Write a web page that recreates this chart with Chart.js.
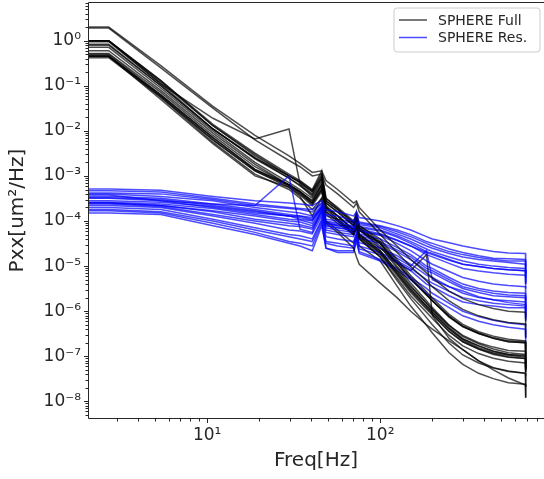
<!DOCTYPE html>
<html>
<head>
<meta charset="utf-8">
<script src="https://cdn.jsdelivr.net/npm/chart.js"></script>
<style>
  body { margin: 0; background: #fff; overflow: hidden; }
  canvas { display: block; }
</style>
</head>
<body>
<canvas id="psd" width="544" height="479"></canvas>
<script>
// frequency bins [Hz] shared by all spectra
const freq = [2.05, 2.7, 5.4, 10.8, 18.9, 29.7, 34.4, 40.5, 45.9, 48.6, 56.7, 70.2, 72.9, 75.6,
              100, 125, 150, 185, 200, 250, 300, 370, 450, 550, 690, 692];

// SPHERE Full spectra, Pxx [um^2/Hz], one row per run
const fullPsd = [
  [2.0, 2.0, 0.28, 3.5e-2, 7.9e-3, 2.8e-3, 1.9e-3, 1.2e-3, 1.3e-3, 7.9e-4, 5.0e-4, 2.5e-4, 2.8e-4, 2.0e-4, 6.3e-5, 2.8e-5, 1.4e-5, 7.1e-6, 5.5e-6, 2.8e-6, 1.9e-6, 1.4e-6, 1.15e-6, 1.0e-6, 9.5e-7, 4.8e-7],
  [1.9, 1.9, 0.25, 3.2e-2, 6.3e-3, 2.2e-3, 1.6e-3, 1.0e-3, 1.1e-3, 6.3e-4, 4.0e-4, 2.0e-4, 2.5e-4, 1.6e-4, 5.0e-5, 2.0e-5, 9.8e-6, 4.7e-6, 3.5e-6, 1.7e-6, 1.1e-6, 7.9e-7, 6.5e-7, 5.6e-7, 5.2e-7, 2.6e-7],
  [1.0, 1.0, 0.11, 1.9e-2, 6.6e-3, 1.1e-2, 6.6e-4, 4.0e-4, 8.9e-4, 2.5e-4, 1.6e-4, 7.9e-5, 1.1e-4, 6.3e-5, 3.2e-5, 1.15e-5, 5.1e-6, 2.3e-6, 1.7e-6, 7.4e-7, 4.5e-7, 3.2e-7, 2.5e-7, 2.1e-7, 2.0e-7, 1.0e-7],
  [1.0, 1.0, 0.13, 1.4e-2, 3.2e-3, 1.1e-3, 7.9e-4, 5.0e-4, 1.3e-3, 3.2e-4, 2.0e-4, 1.0e-4, 1.6e-4, 7.9e-5, 4.0e-5, 1.4e-5, 6.2e-6, 2.7e-6, 1.95e-6, 8.5e-7, 5.1e-7, 3.5e-7, 2.8e-7, 2.4e-7, 2.2e-7, 1.1e-7],
  [1.0, 1.0, 0.12, 1.3e-2, 2.8e-3, 1.0e-3, 7.1e-4, 4.5e-4, 1.0e-3, 2.8e-4, 1.8e-4, 8.9e-5, 1.3e-4, 7.1e-5, 3.2e-5, 1.0e-5, 4.2e-6, 1.7e-6, 1.2e-6, 4.9e-7, 2.75e-7, 1.9e-7, 1.45e-7, 1.2e-7, 1.1e-7, 5.5e-8],
  [0.95, 0.95, 0.11, 1.1e-2, 2.5e-3, 8.9e-4, 6.0e-4, 3.8e-4, 7.9e-4, 2.5e-4, 1.6e-4, 7.9e-5, 1.1e-4, 6.3e-5, 2.8e-5, 9.1e-6, 3.7e-6, 1.5e-6, 1.07e-6, 4.4e-7, 2.45e-7, 1.7e-7, 1.3e-7, 1.1e-7, 1.0e-7, 5.0e-8],
  [0.83, 0.83, 0.10, 1.1e-2, 2.4e-3, 8.9e-4, 6.3e-4, 3.5e-4, 7.1e-4, 2.2e-4, 1.3e-4, 6.3e-5, 8.9e-5, 5.0e-5, 2.2e-5, 7.6e-6, 3.2e-6, 1.3e-6, 9.5e-7, 4.0e-7, 2.3e-7, 1.55e-7, 1.2e-7, 1.05e-7, 9.5e-8, 4.8e-8],
  [0.71, 0.71, 8.9e-2, 1.0e-2, 2.0e-3, 7.1e-4, 5.0e-4, 3.2e-4, 6.3e-4, 2.0e-4, 1.1e-4, 5.6e-5, 7.9e-5, 4.5e-5, 2.0e-5, 6.8e-6, 2.8e-6, 1.2e-6, 8.7e-7, 3.6e-7, 2.1e-7, 1.45e-7, 1.15e-7, 9.8e-8, 8.9e-8, 4.5e-8],
  [0.60, 0.60, 7.9e-2, 8.9e-3, 1.8e-3, 6.3e-4, 4.5e-4, 2.5e-4, 5.0e-4, 1.6e-4, 1.0e-4, 5.0e-5, 7.1e-5, 4.0e-5, 1.6e-5, 4.8e-6, 1.9e-6, 7.2e-7, 5.0e-7, 1.95e-7, 1.07e-7, 7.1e-8, 5.5e-8, 4.6e-8, 4.2e-8, 2.1e-8],
  [0.45, 0.45, 6.3e-2, 7.1e-3, 1.4e-3, 6.3e-4, 4.2e-4, 2.5e-4, 5.6e-4, 1.8e-4, 1.1e-4, 5.6e-5, 8.9e-5, 4.5e-5, 2.0e-5, 6.9e-6, 3.0e-6, 1.3e-6, 9.5e-7, 4.1e-7, 2.4e-7, 1.7e-7, 1.3e-7, 1.1e-7, 1.05e-7, 5.3e-8],
  [0.45, 0.45, 6.0e-2, 6.3e-3, 1.3e-3, 5.6e-4, 3.8e-4, 2.2e-4, 4.5e-4, 1.4e-4, 8.9e-5, 5.0e-5, 7.1e-5, 4.0e-5, 1.6e-5, 5.4e-6, 2.2e-6, 9.5e-7, 6.9e-7, 2.9e-7, 1.7e-7, 1.15e-7, 9.1e-8, 7.8e-8, 7.1e-8, 3.6e-8],
  [0.47, 0.47, 5.6e-2, 5.6e-3, 1.1e-3, 5.0e-4, 3.2e-4, 1.8e-4, 3.2e-4, 8.9e-5, 5.6e-5, 2.5e-5, 1.6e-5, 1.1e-5, 4.2e-6, 2.0e-6, 1.0e-6, 5.0e-7, 4.0e-7, 2.2e-7, 1.4e-7, 7.9e-8, 5.0e-8, 3.3e-8, 2.3e-8, 1.2e-8],
  [0.50, 0.50, 6.3e-2, 7.1e-3, 1.4e-3, 6.3e-4, 4.5e-4, 2.8e-4, 6.3e-4, 2.0e-4, 1.3e-4, 6.3e-5, 8.9e-5, 5.0e-5, 2.5e-5, 1.2e-5, 8.0e-6, 1.8e-5, 7.9e-7, 2.5e-7, 1.4e-7, 7.9e-8, 5.6e-8, 4.7e-8, 4.2e-8, 2.1e-8],
  [0.52, 0.52, 7.1e-2, 7.9e-3, 1.6e-3, 6.3e-4, 4.5e-4, 2.8e-4, 6.3e-4, 2.0e-4, 1.3e-4, 6.3e-5, 1.0e-4, 5.0e-5, 2.2e-5, 7.9e-6, 3.5e-6, 1.5e-6, 1.1e-6, 4.8e-7, 2.9e-7, 2.0e-7, 1.6e-7, 1.35e-7, 1.3e-7, 6.5e-8],
  [0.79, 0.79, 0.10, 1.1e-2, 2.5e-3, 1.0e-3, 7.1e-4, 4.5e-4, 8.9e-4, 2.8e-4, 1.8e-4, 8.9e-5, 1.3e-4, 7.1e-5, 3.2e-5, 1.15e-5, 5.2e-6, 2.3e-6, 1.7e-6, 7.8e-7, 4.7e-7, 3.3e-7, 2.6e-7, 2.2e-7, 2.1e-7, 1.05e-7],
  [0.45, 0.45, 5.0e-2, 5.2e-3, 1.0e-3, 5.6e-4, 3.5e-4, 1.3e-4, 3.2e-4, 1.0e-4, 6.3e-5, 3.2e-5, 5.0e-5, 2.8e-5, 1.3e-5, 3.6e-6, 1.3e-6, 4.9e-7, 3.3e-7, 1.2e-7, 6.6e-8, 4.2e-8, 3.2e-8, 2.6e-8, 2.4e-8, 1.2e-8],
  [1.0, 1.0, 0.13, 1.3e-2, 3.0e-3, 1.0e-3, 7.6e-4, 4.8e-4, 1.1e-3, 3.2e-4, 1.9e-4, 9.5e-5, 1.4e-4, 7.9e-5, 3.5e-5, 1.26e-5, 5.5e-6, 2.4e-6, 1.7e-6, 7.6e-7, 4.6e-7, 3.2e-7, 2.5e-7, 2.1e-7, 2.0e-7, 1.0e-7],
  [0.42, 0.42, 5.6e-2, 6.3e-3, 1.3e-3, 6.0e-4, 4.0e-4, 2.4e-4, 5.0e-4, 1.6e-4, 1.0e-4, 5.2e-5, 7.9e-5, 4.2e-5, 1.8e-5, 6.2e-6, 2.6e-6, 1.1e-6, 8.3e-7, 3.5e-7, 2.1e-7, 1.45e-7, 1.1e-7, 9.5e-8, 8.9e-8, 4.5e-8]
];

// SPHERE Res. spectra, Pxx [um^2/Hz]
const resPsd = [
  [5.1e-4, 5.1e-4, 4.8e-4, 3.5e-4, 2.8e-4, 2.5e-4, 2.4e-4, 2.2e-4, 2.8e-4, 1.8e-4, 1.6e-4, 1.3e-4, 1.6e-4, 1.2e-4, 1.0e-4, 7.9e-5, 6.3e-5, 4.5e-5, 4.0e-5, 3.3e-5, 2.8e-5, 2.4e-5, 2.1e-5, 1.95e-5, 1.9e-5, 9.5e-6],
  [4.7e-4, 4.7e-4, 4.4e-4, 3.2e-4, 2.4e-4, 2.0e-4, 1.9e-4, 1.8e-4, 2.5e-4, 1.4e-4, 1.3e-4, 1.0e-4, 1.3e-4, 9.5e-5, 7.9e-5, 6.3e-5, 5.0e-5, 3.5e-5, 3.2e-5, 2.4e-5, 2.0e-5, 1.7e-5, 1.5e-5, 1.45e-5, 1.4e-5, 7.0e-6],
  [4.0e-4, 4.0e-4, 3.5e-4, 2.8e-4, 2.0e-4, 1.6e-4, 1.5e-4, 1.3e-4, 2.2e-4, 1.1e-4, 1.0e-4, 8.9e-5, 1.1e-4, 8.3e-5, 7.1e-5, 5.2e-5, 4.0e-5, 2.8e-5, 2.5e-5, 1.9e-5, 1.6e-5, 1.4e-5, 1.3e-5, 1.2e-5, 1.1e-5, 5.5e-6],
  [3.8e-4, 3.8e-4, 2.8e-4, 2.4e-4, 2.2e-4, 1.0e-3, 6.6e-5, 5.6e-5, 1.8e-4, 7.9e-5, 7.1e-5, 6.3e-5, 1.0e-4, 6.0e-5, 5.0e-5, 3.7e-5, 2.8e-5, 2.0e-5, 1.8e-5, 1.35e-5, 1.1e-5, 9.8e-6, 8.9e-6, 8.3e-6, 7.9e-6, 4.0e-6],
  [3.5e-4, 3.5e-4, 3.2e-4, 2.4e-4, 1.8e-4, 1.4e-4, 1.3e-4, 1.2e-4, 2.0e-4, 1.0e-4, 8.9e-5, 7.9e-5, 1.05e-4, 7.6e-5, 6.3e-5, 4.7e-5, 3.5e-5, 2.4e-5, 2.1e-5, 1.6e-5, 1.3e-5, 1.1e-5, 1.0e-5, 9.3e-6, 8.9e-6, 4.5e-6],
  [2.8e-4, 2.8e-4, 2.6e-4, 2.1e-4, 1.6e-4, 1.3e-4, 1.2e-4, 1.05e-4, 1.9e-4, 8.9e-5, 7.9e-5, 7.1e-5, 1.0e-4, 6.6e-5, 5.2e-5, 3.8e-5, 2.8e-5, 1.8e-5, 1.6e-5, 1.15e-5, 8.9e-6, 7.8e-6, 7.1e-6, 6.6e-6, 6.3e-6, 3.2e-6],
  [2.6e-4, 2.6e-4, 2.4e-4, 1.9e-4, 1.4e-4, 1.1e-4, 1.05e-4, 8.9e-5, 1.8e-4, 7.9e-5, 7.1e-5, 6.3e-5, 8.9e-5, 6.0e-5, 4.8e-5, 3.2e-5, 2.2e-5, 1.3e-5, 1.1e-5, 7.6e-6, 5.6e-6, 4.6e-6, 4.0e-6, 3.7e-6, 3.5e-6, 1.8e-6],
  [2.5e-4, 2.5e-4, 2.2e-4, 1.7e-4, 1.3e-4, 1.0e-4, 9.5e-5, 7.9e-5, 1.6e-4, 7.1e-5, 6.3e-5, 5.6e-5, 7.9e-5, 5.2e-5, 4.0e-5, 2.6e-5, 1.8e-5, 1.0e-5, 8.9e-6, 5.6e-6, 4.0e-6, 3.2e-6, 2.8e-6, 2.6e-6, 2.5e-6, 1.25e-6],
  [2.4e-4, 2.4e-4, 2.1e-4, 1.4e-4, 1.0e-4, 7.9e-5, 7.6e-5, 6.6e-5, 1.4e-4, 5.6e-5, 5.0e-5, 4.5e-5, 7.1e-5, 4.2e-5, 3.2e-5, 2.1e-5, 1.4e-5, 7.9e-6, 7.1e-6, 4.5e-6, 3.2e-6, 2.6e-6, 2.2e-6, 2.1e-6, 2.0e-6, 1.0e-6],
  [2.2e-4, 2.2e-4, 2.0e-4, 1.3e-4, 8.9e-5, 6.3e-5, 6.0e-5, 5.2e-5, 1.3e-4, 4.5e-5, 4.0e-5, 3.5e-5, 5.6e-5, 3.3e-5, 2.5e-5, 1.7e-5, 1.1e-5, 6.3e-6, 5.6e-6, 3.5e-6, 2.5e-6, 2.0e-6, 1.8e-6, 1.7e-6, 1.6e-6, 8.0e-7],
  [2.0e-4, 2.0e-4, 1.8e-4, 1.1e-4, 7.1e-5, 5.0e-5, 4.7e-5, 4.0e-5, 1.1e-4, 3.5e-5, 3.2e-5, 2.8e-5, 5.0e-5, 2.8e-5, 2.0e-5, 1.3e-5, 8.9e-6, 5.0e-6, 4.2e-6, 2.75e-6, 2.0e-6, 1.7e-6, 1.5e-6, 1.4e-6, 1.3e-6, 6.5e-7],
  [1.8e-4, 1.8e-4, 1.6e-4, 1.0e-4, 6.3e-5, 4.5e-5, 4.0e-5, 3.5e-5, 1.0e-4, 3.2e-5, 2.8e-5, 2.5e-5, 4.5e-5, 2.4e-5, 1.8e-5, 1.2e-5, 7.9e-6, 4.0e-6, 3.5e-6, 2.2e-6, 1.6e-6, 1.4e-6, 1.3e-6, 1.2e-6, 1.2e-6, 6.0e-7],
  [1.7e-4, 1.7e-4, 1.5e-4, 8.9e-5, 5.6e-5, 3.5e-5, 3.2e-5, 2.8e-5, 8.9e-5, 2.5e-5, 2.2e-5, 2.2e-5, 4.0e-5, 2.1e-5, 1.4e-5, 8.9e-6, 5.6e-6, 3.2e-6, 2.5e-6, 1.5e-6, 1.0e-6, 7.6e-7, 6.3e-7, 5.5e-7, 5.0e-7, 2.5e-7],
  [1.5e-4, 1.5e-4, 1.4e-4, 7.9e-5, 5.0e-5, 3.2e-5, 2.8e-5, 2.2e-5, 7.9e-5, 2.5e-5, 2.0e-5, 2.0e-5, 3.5e-5, 1.9e-5, 1.3e-5, 7.9e-6, 5.0e-6, 2.5e-6, 2.0e-6, 1.2e-6, 7.9e-7, 6.0e-7, 5.0e-7, 4.4e-7, 4.0e-7, 2.0e-7],
  [3.2e-4, 3.2e-4, 2.8e-4, 2.0e-4, 1.5e-4, 1.3e-4, 1.1e-4, 1.0e-4, 2.0e-4, 8.9e-5, 7.9e-5, 7.1e-5, 1.0e-4, 6.6e-5, 2.5e-5, 1.5e-5, 1.0e-5, 2.2e-5, 5.0e-6, 3.5e-6, 2.8e-6, 2.1e-6, 1.8e-6, 1.55e-6, 1.4e-6, 7.0e-7],
  [4.2e-4, 4.2e-4, 4.0e-4, 3.0e-4, 2.2e-4, 1.9e-4, 1.8e-4, 1.6e-4, 2.4e-4, 1.3e-4, 1.1e-4, 9.5e-5, 1.3e-4, 8.9e-5, 7.6e-5, 5.8e-5, 4.5e-5, 3.2e-5, 2.8e-5, 2.1e-5, 1.8e-5, 1.55e-5, 1.4e-5, 1.3e-5, 1.3e-5, 6.5e-6],
  [2.5e-4, 2.5e-4, 2.2e-4, 1.6e-4, 1.1e-4, 8.9e-5, 8.3e-5, 7.1e-5, 1.6e-4, 6.3e-5, 5.6e-5, 5.0e-5, 7.9e-5, 4.8e-5, 3.5e-5, 2.3e-5, 1.6e-5, 8.9e-6, 7.9e-6, 5.0e-6, 3.5e-6, 2.9e-6, 2.5e-6, 2.3e-6, 2.2e-6, 1.1e-6],
  [3.3e-4, 3.3e-4, 3.0e-4, 2.2e-4, 1.7e-4, 1.3e-4, 1.3e-4, 1.1e-4, 2.1e-4, 9.5e-5, 8.3e-5, 7.6e-5, 1.05e-4, 7.1e-5, 6.0e-5, 4.4e-5, 3.2e-5, 2.1e-5, 1.9e-5, 1.4e-5, 1.1e-5, 9.8e-6, 8.9e-6, 8.3e-6, 7.9e-6, 4.0e-6]
];

const seriesNames = ['SPHERE Full', 'SPHERE Res.'];
const seriesColors = ['rgba(0,0,0,0.7)', 'rgba(0,0,255,0.7)'];

// decade ticks and their labels
const xMajor = [10, 100];
const xLabels = ['10\u00b9', '10\u00b2'];
const yMajor = [1, 1e-1, 1e-2, 1e-3, 1e-4, 1e-5, 1e-6, 1e-7, 1e-8];
const yLabels = ['10\u2070', '10\u207b\u00b9', '10\u207b\u00b2', '10\u207b\u00b3', '10\u207b\u2074',
                 '10\u207b\u2075', '10\u207b\u2076', '10\u207b\u2077', '10\u207b\u2078'];

const xMin = 2.05, xMax = 883;
const yMin = 4.07e-9, yMax = 7.2;

function logTicks(lo, hi) {
  var out = [];
  for (var e = Math.floor(Math.log10(lo)); e <= Math.ceil(Math.log10(hi)); e++) {
    for (var k = 1; k <= 9; k++) {
      var v = k * Math.pow(10, e);
      if (v >= lo && v <= hi) out.push(v);
    }
  }
  return out;
}

function isDecade(v) {
  var l = Math.log10(v);
  return Math.abs(l - Math.round(l)) < 1e-6;
}

function labelFor(v, majors, labels) {
  for (var i = 0; i < majors.length; i++) {
    if (Math.abs(Math.log10(v) - Math.log10(majors[i])) < 1e-6) return labels[i];
  }
  return '';
}

var datasets = [];
for (var i = 0; i < Math.max(fullPsd.length, resPsd.length); i++) {
  [fullPsd, resPsd].forEach(function (group, g) {
    if (!group[i]) return;
    datasets.push({
      label: seriesNames[g],
      data: freq.map(function (f, j) { return { x: f, y: group[i][j] }; }),
      borderColor: seriesColors[g],
      borderWidth: 1.5,
      pointRadius: 0,
      tension: 0,
      fill: false
    });
  });
}

const FONT = 'DejaVu Sans';

// spines, minor/major tick marks and legend box (matplotlib look)
const decorations = {
  id: 'decorations',
  afterDraw: function (chart) {
    var ctx = chart.ctx, a = chart.chartArea;
    var xs = chart.scales.x, ys = chart.scales.y;
    ctx.save();
    ctx.strokeStyle = '#262626';
    ctx.lineWidth = 1;
    ctx.beginPath();
    ctx.moveTo(a.right + 2, a.top + 0.5);
    ctx.lineTo(a.left + 0.5, a.top + 0.5);
    ctx.lineTo(a.left + 0.5, a.bottom - 0.5);
    ctx.lineTo(a.right + 2, a.bottom - 0.5);
    ctx.stroke();

    ctx.beginPath();
    xs.ticks.forEach(function (t) {
      var px = Math.round(xs.getPixelForValue(t.value)) + 0.5;
      var len = isDecade(t.value) ? 4 : 2.5;
      ctx.moveTo(px, a.bottom);
      ctx.lineTo(px, a.bottom + len);
    });
    ys.ticks.forEach(function (t) {
      var py = Math.round(ys.getPixelForValue(t.value)) + 0.5;
      var len = isDecade(t.value) ? 4 : 2.5;
      ctx.moveTo(a.left, py);
      ctx.lineTo(a.left - len, py);
    });
    ctx.stroke();

    // legend
    var lx = 394, ly = 8, lw = 146, lh = 44, r = 3;
    ctx.beginPath();
    ctx.moveTo(lx + r, ly);
    ctx.arcTo(lx + lw, ly, lx + lw, ly + lh, r);
    ctx.arcTo(lx + lw, ly + lh, lx, ly + lh, r);
    ctx.arcTo(lx, ly + lh, lx, ly, r);
    ctx.arcTo(lx, ly, lx + lw, ly, r);
    ctx.closePath();
    ctx.fillStyle = 'rgba(255,255,255,0.8)';
    ctx.fill();
    ctx.strokeStyle = '#cccccc';
    ctx.stroke();

    ctx.font = '14px "' + FONT + '"';
    ctx.textBaseline = 'middle';
    ctx.textAlign = 'left';
    seriesNames.forEach(function (name, g) {
      var yy = ly + 12 + g * 17.5;
      ctx.strokeStyle = seriesColors[g];
      ctx.lineWidth = 1.5;
      ctx.beginPath();
      ctx.moveTo(lx + 5, yy);
      ctx.lineTo(lx + 33, yy);
      ctx.stroke();
      ctx.fillStyle = '#262626';
      ctx.fillText(name, lx + 44, yy + 1);
    });
    ctx.restore();
  }
};

var ctx = document.getElementById('psd').getContext('2d');

var config = {
  type: 'line',
  data: { datasets: datasets },
  options: {
    responsive: false,
    animation: false,
    devicePixelRatio: 1,
    layout: { padding: { top: 2, right: 0, left: 0, bottom: 0 } },
    plugins: { legend: { display: false }, tooltip: { enabled: false } },
    scales: {
      x: {
        type: 'logarithmic',
        min: xMin,
        max: xMax,
        afterBuildTicks: function (s) { s.ticks = logTicks(xMin, xMax).map(function (v) { return { value: v }; }); },
        afterFit: function (s) { s.height = 60; s.paddingLeft = 0; s.paddingRight = 0; },
        grid: { display: false, drawTicks: false },
        border: { display: false },
        ticks: {
          autoSkip: false,
          maxRotation: 0,
          padding: 6,
          color: '#262626',
          font: { family: FONT, size: 17 },
          callback: function (v) { return labelFor(v, xMajor, xLabels); }
        },
        title: {
          display: true,
          text: 'Freq[Hz]',
          color: '#262626',
          font: { family: FONT, size: 20 },
          padding: { top: 0, bottom: 6 }
        }
      },
      y: {
        type: 'logarithmic',
        min: yMin,
        max: yMax,
        afterBuildTicks: function (s) { s.ticks = logTicks(yMin, yMax).map(function (v) { return { value: v }; }); },
        afterFit: function (s) { s.width = 88; s.paddingTop = 0; s.paddingBottom = 0; },
        grid: { display: false, drawTicks: false },
        border: { display: false },
        ticks: {
          autoSkip: false,
          padding: 7,
          color: '#262626',
          font: { family: FONT, size: 17 },
          callback: function (v) { return labelFor(v, yMajor, yLabels); }
        },
        title: {
          display: true,
          text: 'Pxx[um\u00b2/Hz]',
          color: '#262626',
          font: { family: FONT, size: 20 },
          padding: { top: 6, bottom: 0 }
        }
      }
    }
  },
  plugins: [decorations]
};

var psdChart = new Chart(ctx, config);
</script>
</body>
</html>
